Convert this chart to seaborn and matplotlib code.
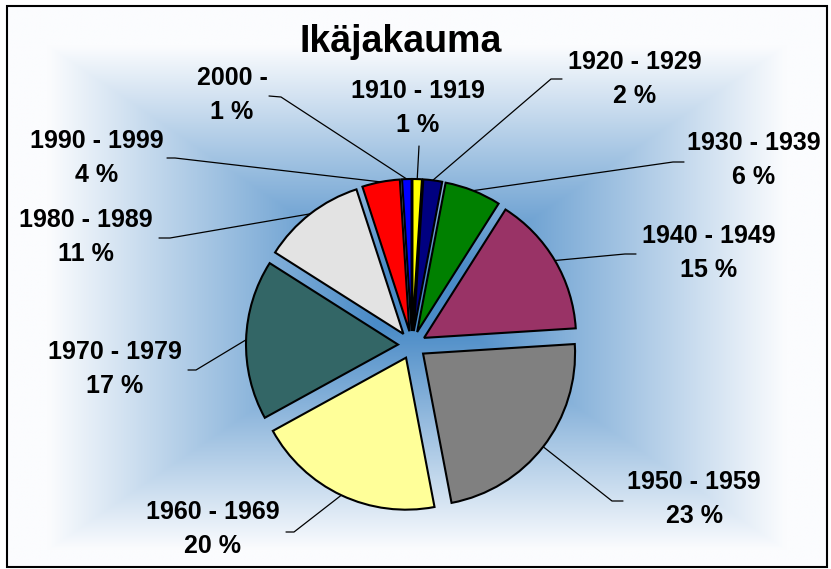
import numpy as np
import matplotlib
matplotlib.use('Agg')
import matplotlib.pyplot as plt
import seaborn as sns
from matplotlib.colors import to_rgb
from matplotlib.patches import Rectangle

sns.set_theme(style='white')
plt.rcParams['font.family'] = ['Liberation Sans', 'DejaVu Sans']

# data, clockwise from 12 o'clock
decades = ['1910 - 1919', '1920 - 1929', '1930 - 1939', '1940 - 1949', '1950 - 1959',
           '1960 - 1969', '1970 - 1979', '1980 - 1989', '1990 - 1999', '2000 -']
shares = [1, 2, 6, 15, 23, 20, 17, 11, 4, 1]
slice_colors = ['#ffff00', '#000080', '#008000', '#993366', '#808080',
                '#ffff99', '#336666', '#e3e3e3', '#ff0000', '#0000ff']

W, H = 831, 569
CX, CY, R = 412, 345, 152      # pie centre / radius in pixels (y from top)
EXPL = 14

# label layout: text centre, then leader points (pixels, y from top)
label_pos = {
    '1910 - 1919': ((418, 108), [(419, 146)]),
    '1920 - 1929': ((635, 79), [(562, 79), (551, 79)]),
    '1930 - 1939': ((754, 160), [(684, 162), (673, 162)]),
    '1940 - 1949': ((709, 253), [(636, 254), (625, 254)]),
    '1950 - 1959': ((694, 499), [(623, 501), (612, 501)]),
    '1960 - 1969': ((213, 529), [(286, 532), (294, 532)]),
    '1970 - 1979': ((115, 369), [(188, 370), (196, 370)]),
    '1980 - 1989': ((86, 237), [(159, 238), (170, 238)]),
    '1990 - 1999': ((97, 158), [(167, 158), (175, 158)]),
    '2000 -': ((232, 95), [(269, 96), (281, 97)]),
}


def fy(y):
    return H - y


fig = plt.figure(figsize=(W / 100, H / 100), dpi=100)
ax = fig.add_axes([0, 0, 1, 1])
ax.set_xlim(0, W)
ax.set_ylim(0, H)
ax.axis('off')

# rectangular "from centre" gradient background
x0, x1, y0, y1 = 7, 827, 2, 563
gx = np.linspace(-1, 1, 600)
gy = np.linspace(-1, 1, 420) + 0.04
GX, GY = np.meshgrid(gx, gy)
t = np.maximum(np.abs(GX), np.abs(GY))
blend = np.clip((t - 0.1) / 0.8, 0, 1)[..., None]
blue = np.array(to_rgb('#4a8bc7'))
white = np.array(to_rgb('#fbfcfe'))
img = blue * (1 - blend) + white * blend
ax.imshow(img, extent=(x0, x1, y0, y1), origin='lower', aspect='auto', zorder=0)
ax.add_patch(Rectangle((x0, y0), x1 - x0, y1 - y0, fill=False, edgecolor='black', lw=1.5, zorder=1))

wedges, _ = ax.pie(shares, colors=slice_colors, startangle=90, counterclock=False,
                   center=(CX, fy(CY)), radius=R, explode=[EXPL] * len(shares),
                   wedgeprops=dict(edgecolor='black', linewidth=1.5), frame=True)
for w in wedges:
    w.set_zorder(3)
ax.set_xlim(0, W)
ax.set_ylim(0, H)
ax.set_aspect('equal', adjustable='datalim')
ax.axis('off')

# leader lines and labels
cum = np.cumsum([0] + shares) / sum(shares) * 360
for i, (dec, val) in enumerate(zip(decades, shares)):
    mid = np.deg2rad((cum[i] + cum[i + 1]) / 2)
    ex = CX + (R + EXPL) * np.sin(mid)
    ey = fy(CY) + (R + EXPL) * np.cos(mid)
    (tx, ty), pts = label_pos[dec]
    xs = [p[0] for p in pts] + [ex]
    ys = [fy(p[1]) for p in pts] + [ey]
    ax.plot(xs, ys, color='black', lw=0.9, zorder=2)
    ax.text(tx, fy(ty), f'{dec}\n{val} %', ha='center', va='center', color='black',
            fontsize=18, fontweight='bold', linespacing=1.5, zorder=4)

ax.text(401, fy(52), 'Ikäjakauma', ha='center', va='baseline', color='black',
        fontsize=27, fontweight='bold', zorder=4)

fig.savefig('out.png', dpi=100)
